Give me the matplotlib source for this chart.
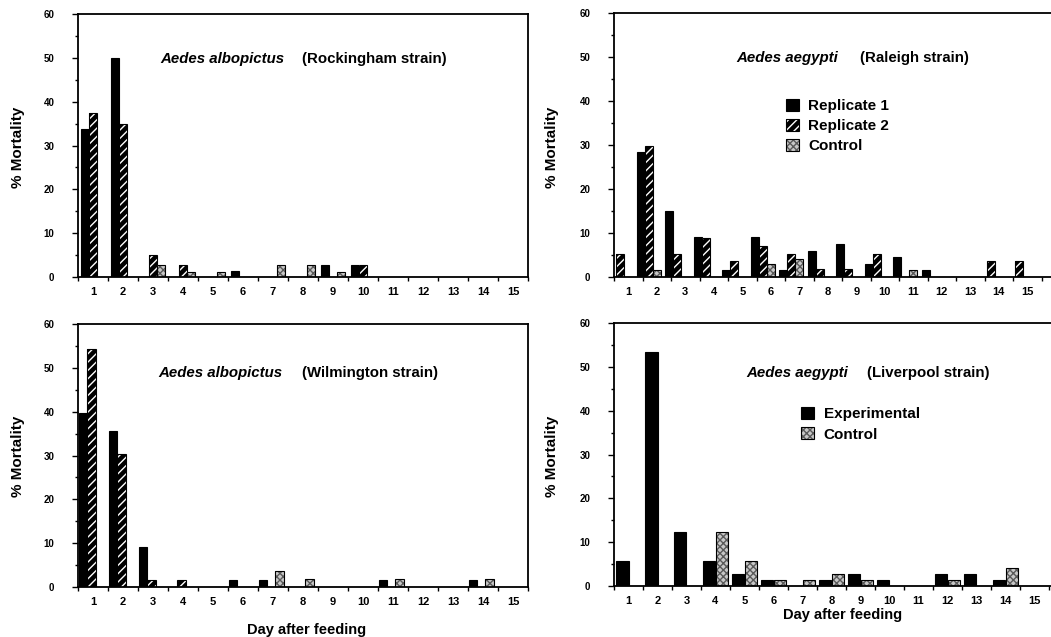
import matplotlib
matplotlib.use('Agg')
from matplotlib import pyplot as plt
from matplotlib.patches import Patch
import numpy as np

plt.rcParams['font.family'] = ['Liberation Sans', 'DejaVu Sans']
plt.rcParams['font.weight'] = 'bold'
plt.rcParams['hatch.linewidth'] = 1.0

days = np.arange(1, 16)
day_labels = [str(d) for d in days]

# Aedes albopictus, Rockingham strain
rock_rep1 = [33.7, 50.0, 0, 0, 0, 1.4, 0, 0, 2.7, 2.7, 0, 0, 0, 0, 0]
rock_rep2 = [37.5, 35.0, 5.0, 2.7, 0, 0, 0, 0, 0, 2.7, 0, 0, 0, 0, 0]
rock_ctrl = [0, 0, 2.7, 1.2, 1.2, 0, 2.7, 2.7, 1.2, 0, 0, 0, 0, 0, 0]

# Aedes aegypti, Raleigh strain
ral_rep1 = [0, 28.3, 15.0, 9.2, 1.6, 9.2, 1.6, 5.9, 7.6, 3.0, 4.6, 1.6, 0, 0, 0]
ral_rep2 = [5.3, 29.8, 5.3, 8.9, 3.6, 7.1, 5.3, 1.9, 1.9, 5.3, 0, 0, 0, 3.6, 3.6]
ral_ctrl = [0, 1.5, 0, 0, 0, 3.0, 4.2, 0, 0, 0, 1.6, 0, 0, 0, 0]

# Aedes albopictus, Wilmington strain
wil_rep1 = [39.8, 35.6, 9.1, 0, 0, 1.5, 1.5, 0, 0, 0, 1.5, 0, 0, 1.5, 0]
wil_rep2 = [54.3, 30.3, 1.5, 1.5, 0, 0, 0, 0, 0, 0, 0, 0, 0, 0, 0]
wil_ctrl = [0, 0, 0, 0, 0, 0, 3.7, 1.8, 0, 0, 1.8, 0, 0, 1.8, 0]

# Aedes aegypti, Liverpool strain
liv_exp = [5.6, 53.4, 12.4, 5.6, 2.7, 1.4, 0, 1.4, 2.7, 1.4, 0, 2.7, 2.7, 1.4, 0]
liv_ctrl = [0, 0, 0, 12.4, 5.6, 1.4, 1.4, 2.7, 1.4, 0, 0, 1.4, 0, 4.1, 0]

W, H = 1051, 637
fig = plt.figure(figsize=(W / 100, H / 100), dpi=100)

STIP_FC = '#c8c8c8'
STIP_HC = '#5a5a5a'


def px_axes(left, top, right, bottom):
    return fig.add_axes([left / W, 1 - bottom / H, (right - left) / W, (bottom - top) / H])


def draw_bars(ax, vals, offset, width, kind):
    x = days - 0.5 + offset
    if kind == 'solid':
        ax.bar(x, vals, width, color='black', edgecolor='black', linewidth=0.8)
        return
    if kind == 'hatch':
        ax.bar(x, vals, width, color='black', edgecolor='white', hatch='////', linewidth=0)
    else:
        ax.bar(x, vals, width, color=STIP_FC, edgecolor=STIP_HC, hatch='xxxxx', linewidth=0)
    ax.bar(x, vals, width, fill=False, edgecolor='black', linewidth=0.8)


def style_axes(ax, xmax, right_spine):
    ax.set_xlim(0, xmax)
    ax.set_ylim(0, 60)
    for s in ax.spines.values():
        s.set_linewidth(1.3)
    ax.spines['right'].set_visible(right_spine)
    ax.set_xticks(np.arange(0, 16))
    ax.set_xticklabels([])
    ax.set_xticks(days - 0.5, minor=True)
    ax.set_xticklabels(day_labels, minor=True, fontsize=8, fontweight='bold')
    ax.tick_params(axis='x', which='major', direction='out', length=3, width=1)
    ax.tick_params(axis='x', which='minor', length=0, pad=7.5)
    ax.set_yticks(np.arange(0, 61, 10))
    ax.set_yticks(np.arange(5, 60, 10), minor=True)
    ax.set_yticklabels([str(v) for v in range(0, 61, 10)], fontsize=7, fontweight='bold')
    ax.tick_params(axis='y', which='major', direction='out', length=4, width=1, pad=13)
    ax.tick_params(axis='y', which='minor', direction='out', length=2, width=1)


def add_title(ax, species, strain, xs, xst, y):
    ax.text(xs, y, species, transform=ax.transAxes, fontsize=10.8, fontweight='bold',
            fontstyle='italic', ha='left', va='center')
    ax.text(xst, y, strain, transform=ax.transAxes, fontsize=10.8, fontweight='bold',
            ha='left', va='center')


hatch_handle = (Patch(facecolor='black', edgecolor='white', hatch='////', linewidth=0),
                Patch(fill=False, edgecolor='black', linewidth=0.8))
ctrl_handle = (Patch(facecolor=STIP_FC, edgecolor=STIP_HC, hatch='xxxxx', linewidth=0),
               Patch(fill=False, edgecolor='black', linewidth=0.8))
solid_handle = Patch(facecolor='black', edgecolor='black', linewidth=0.8)

# top left
ax1 = px_axes(78, 14, 528, 277)
draw_bars(ax1, rock_rep1, -0.27, 0.27, 'solid')
draw_bars(ax1, rock_rep2, 0.0, 0.27, 'hatch')
draw_bars(ax1, rock_ctrl, 0.26, 0.27, 'stipple')
style_axes(ax1, 15, True)
add_title(ax1, 'Aedes albopictus', '(Rockingham strain)', 0.182, 0.498, 0.829)

# top right
ax2 = px_axes(614, 13, 1051, 277)
draw_bars(ax2, ral_rep1, -0.56, 0.28, 'solid')
draw_bars(ax2, ral_rep2, -0.28, 0.28, 'hatch')
draw_bars(ax2, ral_ctrl, 0.0, 0.28, 'stipple')
style_axes(ax2, 437 / 28.5, False)
add_title(ax2, 'Aedes aegypti', '(Raleigh strain)', 0.281, 0.563, 0.829)
ax2.legend([solid_handle, hatch_handle, ctrl_handle], ['Replicate 1', 'Replicate 2', 'Control'],
           loc='upper left', bbox_to_anchor=(0.375, 0.703), frameon=False, borderpad=0,
           handlelength=0.85, handleheight=0.85, handletextpad=0.65, labelspacing=0.35,
           prop={'size': 11, 'weight': 'bold'})

# bottom left
ax3 = px_axes(78, 324, 528, 587)
draw_bars(ax3, wil_rep1, -0.33, 0.28, 'solid')
draw_bars(ax3, wil_rep2, -0.05, 0.28, 'hatch')
draw_bars(ax3, wil_ctrl, 0.22, 0.28, 'stipple')
style_axes(ax3, 15, True)
add_title(ax3, 'Aedes albopictus', '(Wilmington strain)', 0.178, 0.498, 0.814)

# bottom right
ax4 = px_axes(614, 323, 1051, 586)
draw_bars(ax4, liv_exp, -0.21, 0.42, 'solid')
draw_bars(ax4, liv_ctrl, 0.21, 0.42, 'stipple')
style_axes(ax4, 437 / 29, False)
add_title(ax4, 'Aedes aegypti', '(Liverpool strain)', 0.302, 0.579, 0.81)
ax4.legend([solid_handle, ctrl_handle], ['Experimental', 'Control'],
           loc='upper left', bbox_to_anchor=(0.41, 0.711), frameon=False, borderpad=0,
           handlelength=0.85, handleheight=0.85, handletextpad=0.65, labelspacing=0.4,
           prop={'size': 11, 'weight': 'bold'})

# axis labels
for xp, yp in [(18, 147), (552, 147), (18, 456), (552, 456)]:
    fig.text(xp / W, 1 - yp / H, '% Mortality', rotation=90, fontsize=11, fontweight='bold',
             ha='center', va='center')
fig.text(307 / W, 1 - 630 / H, 'Day after feeding', fontsize=10.5, fontweight='bold',
         ha='center', va='center')
fig.text(843 / W, 1 - 615 / H, 'Day after feeding', fontsize=10.5, fontweight='bold',
         ha='center', va='center')

fig.savefig('out.png', dpi=100)
